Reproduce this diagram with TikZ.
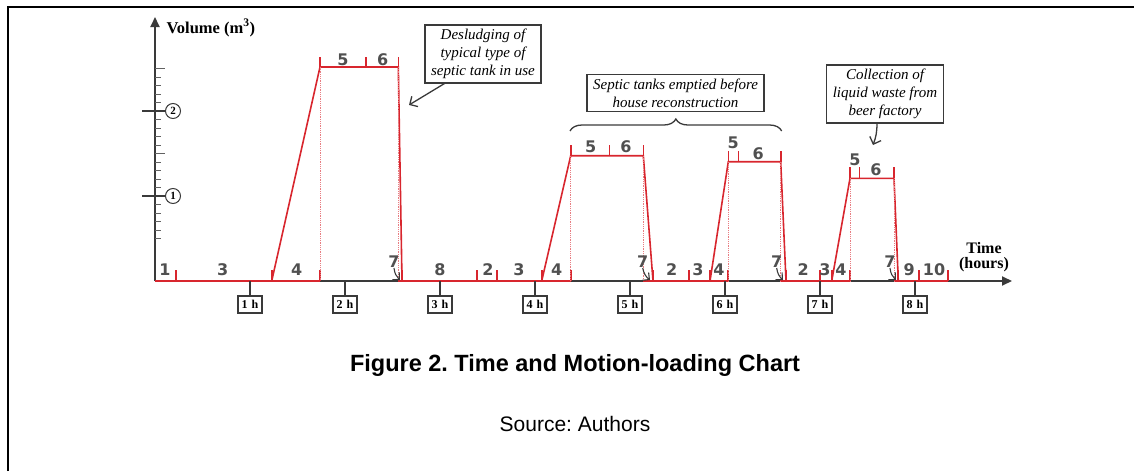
\documentclass[tikz,border=0pt]{standalone}
\usepackage{fontspec}
\setmainfont{Liberation Serif}
\newfontfamily\capfont{Liberation Sans}
\newfontfamily\digfont{DejaVu Sans}
\usetikzlibrary{arrows.meta,decorations.pathreplacing}
\definecolor{colLoad}{HTML}{D8262E}
\definecolor{colDig}{HTML}{505050}
\definecolor{colAxis}{HTML}{3A3A3A}
\frenchspacing

\begin{document}
\begin{tikzpicture}[x=1pt, y=-1pt,
  seg/.style={text=colDig, font=\digfont\bfseries\fontsize{16}{16}\selectfont, inner sep=0pt},
  hbox/.style={draw=colAxis, line width=1.4pt, minimum width=24pt, minimum height=17pt, inner sep=1pt,
               font=\bfseries\fontsize{12}{12}\selectfont},
  vmark/.style={circle, draw=colAxis, line width=1pt, minimum size=15pt, inner sep=0pt,
                font=\bfseries\fontsize{11}{11}\selectfont},
  note/.style={draw=colAxis, line width=1.3pt, align=center, font=\itshape\fontsize{15}{18}\selectfont,
               inner xsep=6pt, inner ysep=4pt},
  load/.style={colLoad, line width=1.6pt},
  guide/.style={colLoad!60, densely dotted, line width=0.8pt},
  axis/.style={colAxis, line width=1.8pt, -{Triangle[length=10pt, width=9pt]}},
  arr/.style={-{Straight Barb[length=6pt]}, line width=1.3pt, colAxis},
  arrs/.style={-{Straight Barb[length=5pt]}, line width=1.1pt, colAxis}
]
  \useasboundingbox (0,0) rectangle (1134,471);
  \draw[line width=2pt] (8,471) -- (8,7) -- (1134,7);

  \coordinate (O) at (155,281);
  \coordinate (ytop) at (155,17);
  \coordinate (xend) at (1012,281);
  \draw[axis] (O) -- (ytop);
  \draw[axis] (O) -- (xend);
  \node[anchor=west, font=\bfseries\fontsize{16.5}{17}\selectfont] (ylab) at (163,28)
    {Volume (m\textsuperscript{3})};
  \node[align=center, font=\bfseries\fontsize{16}{15}\selectfont] (tlab) at (984,257)
    {Time\\(hours)};

  \foreach \v in {5,...,25}
    \draw[colAxis!80, line width=1pt] (155,281-8.5*\v) -- (161,281-8.5*\v);
  \foreach \v in {15,25}
    \draw[colAxis!80, line width=1pt] (155,281-8.5*\v) -- (165,281-8.5*\v);
  \node[vmark] (v1) at (173,196) {1};
  \node[vmark] (v2) at (173,111) {2};
  \draw[colAxis, line width=1.2pt] (142,196) -- (v1);
  \draw[colAxis, line width=1.2pt] (142,111) -- (v2);

  \draw[load] (O) -- (320,281);
  \draw[load] (398,281) -- (571,281);
  \draw[load] (643,281) -- (728,281);
  \draw[load] (780,281) -- (850,281);
  \draw[load] (894,281) -- (948,281);
  \foreach \x in {176,271.7,320,402,477,496.7,541.7,570.7,653,689,710,728,786,820,831.7,850,898,919,948}
    \draw[load] (\x,281) -- (\x,270);

  \draw[load] (271.7,281) -- (320,67) -- (398.3,67) -- (402,281);
  \draw[guide] (320,67) -- (320,281);
  \draw[guide] (398.3,67) -- (398.3,281);
  \foreach \x in {320,366,398.3}
    \draw[load] (\x,67) -- (\x,56.5);

  \draw[load] (541.7,281) -- (570.7,155.7) -- (643.3,155.7) -- (653,281);
  \draw[guide] (570.7,155.7) -- (570.7,281);
  \draw[guide] (643.3,155.7) -- (643.3,281);
  \foreach \x in {570.7,609.3,643.3}
    \draw[load] (\x,155.7) -- (\x,145);

  \draw[load] (710,281) -- (728.3,161.7) -- (780.7,161.7) -- (786,281);
  \draw[guide] (728.3,161.7) -- (728.3,281);
  \draw[guide] (780.7,161.7) -- (780.7,281);
  \foreach \x in {728.3,738.3,780.7}
    \draw[load] (\x,161.7) -- (\x,151);

  \draw[load] (831.7,281) -- (850,178.3) -- (894,178.3) -- (898.3,281);
  \draw[guide] (850,178.3) -- (850,281);
  \draw[guide] (894,178.3) -- (894,281);
  \foreach \x in {850,859.3,894}
    \draw[load] (\x,178.3) -- (\x,167.3);

  \node[seg] (sa1) at (165,270) {1};
  \node[seg] (sa3) at (222.7,270) {3};
  \node[seg] (sa4) at (296.7,270) {4};
  \node[seg] (sa5) at (343,60) {5};
  \node[seg] (sa6) at (382.7,60) {6};
  \node[seg] (sa7) at (394,262) {7};
  \node[seg] (sa8) at (440,270) {8};
  \node[seg] (sb2) at (488,270) {2};
  \node[seg] (sb3) at (519,270) {3};
  \node[seg] (sb4) at (556.7,270) {4};
  \node[seg] (sb5) at (590.7,147) {5};
  \node[seg] (sb6) at (626,147) {6};
  \node[seg] (sb7) at (642.7,262) {7};
  \node[seg] (sc2) at (671.7,270) {2};
  \node[seg] (sc3) at (698,270) {3};
  \node[seg] (sc4) at (719,270) {4};
  \node[seg] (sc5) at (733.3,143) {5};
  \node[seg] (sc6) at (758.3,154) {6};
  \node[seg] (sc7) at (776.7,262) {7};
  \node[seg] (sd2) at (803.3,270) {2};
  \node[seg] (sd3) at (825,270) {3};
  \node[seg] (sd4) at (841,270) {4};
  \node[seg] (sd5) at (855,159.5) {5};
  \node[seg] (sd6) at (876,170) {6};
  \node[seg] (sd7) at (890,262) {7};
  \node[seg] (sd9) at (909.3,270) {9};
  \node[seg] (sd10) at (934,270) {10};

  \coordinate (ka7) at (400,280);
  \coordinate (kb7) at (650,280);
  \coordinate (kc7) at (783,280);
  \coordinate (kd7) at (896,280);
  \draw[arrs] (sa7.south) to[bend right=20] (ka7);
  \draw[arrs] (sb7.south) to[bend right=20] (kb7);
  \draw[arrs] (sc7.south) to[bend right=20] (kc7);
  \draw[arrs] (sd7.south) to[bend right=20] (kd7);

  \foreach \h in {1,...,8} {
    \coordinate (t\h) at (155+95*\h,281);
    \node[hbox] (h\h) at (155+95*\h,304.5) {\h\,\,h};
    \draw[colAxis, line width=1.6pt] (t\h) -- (h\h);
  }

  \node[note] (desl) at (483,54) {Desludging of\\typical type of\\septic tank in use};
  \node[note] (recon) at (675.5,93) {Septic tanks emptied before\\house reconstruction};
  \node[note] (beer) at (885,94) {Collection of\\liquid waste from\\beer factory};
  \coordinate (pdesl) at (409,105);
  \coordinate (pbeer) at (873,145);
  \draw[arr] ([xshift=20pt]desl.south west) -- (pdesl);
  \draw[arr] ([xshift=-8pt]beer.south) to[bend left=10] (pbeer);
  \draw[colAxis, line width=1.3pt, decorate, decoration={brace, amplitude=12pt}]
    (570,131) -- (781.7,131);

  \node[font=\capfont\bfseries\fontsize{23.5}{24}\selectfont] (cap) at (575,365)
    {Figure 2. Time and Motion-loading Chart};
  \node[font=\capfont\fontsize{21}{21}\selectfont] (src) at (575,424) {Source: Authors};
\end{tikzpicture}
\end{document}
